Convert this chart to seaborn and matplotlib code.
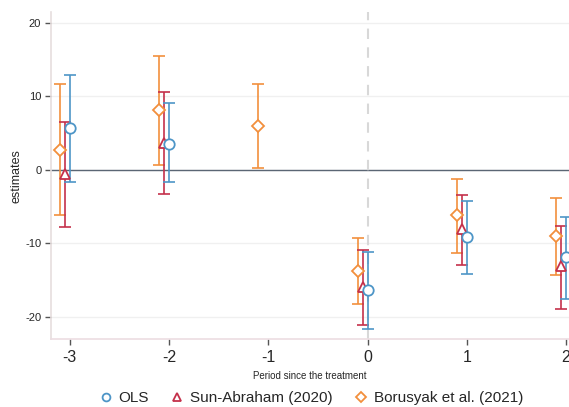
import matplotlib
matplotlib.use("Agg")
import matplotlib.pyplot as plt
import seaborn as sns
import pandas as pd
import numpy as np

# ---- data ----
periods_ols = [-3, -2, 0, 1, 2]
ols_est = [5.7, 3.5, -16.4, -9.1, -11.9]
ols_lo = [-1.6, -1.7, -21.7, -14.1, -17.5]
ols_hi = [12.9, 9.0, -11.2, -4.2, -6.4]

periods_sa = [-3, -2, 0, 1, 2]
sa_est = [-0.6, 3.6, -15.9, -8.1, -13.1]
sa_lo = [-7.8, -3.3, -21.1, -12.9, -18.9]
sa_hi = [6.5, 10.6, -10.9, -3.4, -7.6]

periods_bjs = [-3, -2, -1, 0, 1, 2]
bjs_est = [2.7, 8.1, 6.0, -13.7, -6.2, -9.0]
bjs_lo = [-6.2, 0.7, 0.2, -18.3, -11.3, -14.3]
bjs_hi = [11.6, 15.5, 11.7, -9.3, -1.2, -3.9]

series_names = ["OLS", "Sun-Abraham (2020)", "Borusyak et al. (2021)"]
x_ticks = [-3, -2, -1, 0, 1, 2]
y_ticks = [-20, -10, 0, 10, 20]

rows = []
for name, p, e, lo, hi in [
    (series_names[0], periods_ols, ols_est, ols_lo, ols_hi),
    (series_names[1], periods_sa, sa_est, sa_lo, sa_hi),
    (series_names[2], periods_bjs, bjs_est, bjs_lo, bjs_hi),
]:
    for a, b, c, d in zip(p, e, lo, hi):
        rows.append(dict(series=name, period=a, est=b, lo=c, hi=d))
df = pd.DataFrame(rows)

sns.set_style("white")
plt.rcParams["font.family"] = ["Liberation Sans", "DejaVu Sans"]
plt.rcParams["axes.unicode_minus"] = False

colors = {series_names[0]: "#4d95c7", series_names[1]: "#c4304a", series_names[2]: "#f28f3c"}
markers = {series_names[0]: "o", series_names[1]: "^", series_names[2]: "D"}
msizes = {series_names[0]: 7.5, series_names[1]: 7, series_names[2]: 6.5}
offsets = {series_names[0]: 0.0, series_names[1]: -0.05, series_names[2]: -0.10}

fig = plt.figure(figsize=(5.69, 4.07), dpi=100)
ax = fig.add_axes([0.0896, 0.167, 0.9104, 0.803])

ax.axhline(0, color="#5b6674", lw=1.0, zorder=1)
ax.axvline(0, color="#d8d8d8", lw=1.5, ls=(0, (5, 4)), zorder=1)

for name in series_names[::-1]:
    sub = df[df.series == name]
    x = sub.period + offsets[name]
    ax.errorbar(x, sub.est, yerr=[sub.est - sub.lo, sub.hi - sub.est],
                fmt="none", ecolor=colors[name], elinewidth=1.4, capsize=4,
                capthick=1.4, alpha=0.85, zorder=2)
    ax.plot(x, sub.est, ls="none", marker=markers[name], ms=msizes[name],
            mfc="white", mec=colors[name], mew=1.3, zorder=3, label=name)

ax.set_xlim(-3.19, 2.03)
ax.set_ylim(-23, 21.4)
ax.set_xticks(x_ticks)
ax.set_xticklabels([str(t) for t in x_ticks], fontsize=11.5)
ax.set_yticks(y_ticks)
ax.set_yticklabels([str(t) for t in y_ticks], fontsize=8)
ax.tick_params(axis="both", direction="out", length=4, width=1, color="#555555",
               bottom=True, left=True, pad=3)
ax.tick_params(axis="x", pad=4)
ax.grid(axis="y", color="#f0f0f0", lw=1)
ax.set_axisbelow(True)
for s in ["top", "right"]:
    ax.spines[s].set_visible(False)
ax.spines["left"].set_color("#e6dede")
ax.spines["bottom"].set_color("#ecdde2")
ax.spines["left"].set_linewidth(1.2)
ax.spines["bottom"].set_linewidth(1.2)

ax.set_ylabel("estimates", fontsize=9, labelpad=2)
ax.set_xlabel("Period since the treatment", fontsize=7, labelpad=4)

h, l = ax.get_legend_handles_labels()
order = [l.index(n) for n in series_names]
ax.legend([h[i] for i in order], [l[i] for i in order], loc="center",
          bbox_to_anchor=(0.5, -0.18), ncol=3, frameon=False, fontsize=11,
          handletextpad=0.25, columnspacing=1.25, handlelength=1.2, markerscale=0.75)

fig.savefig("out.png", dpi=100)
